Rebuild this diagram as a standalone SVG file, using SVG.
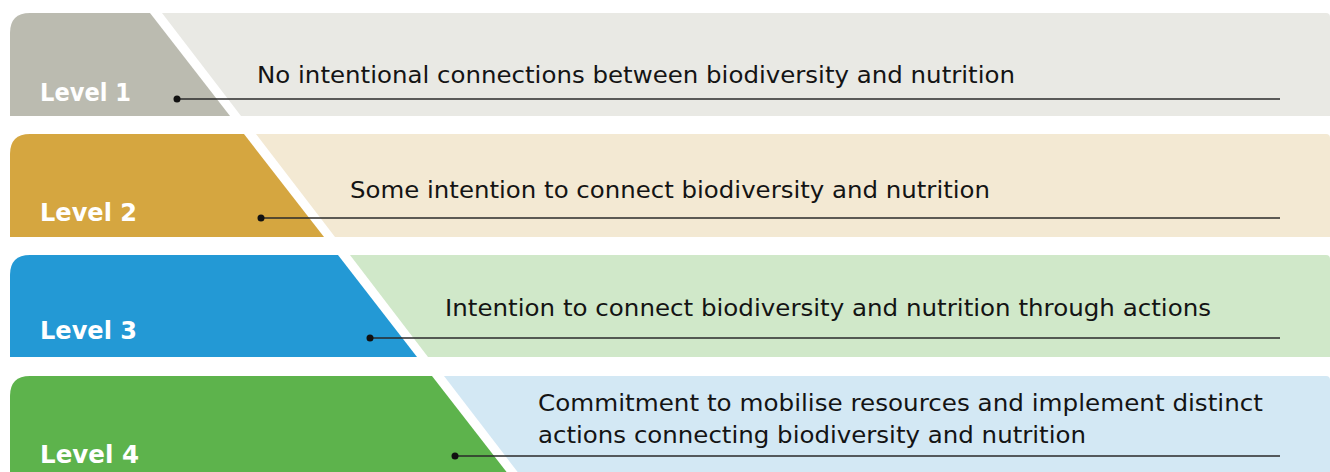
<svg xmlns="http://www.w3.org/2000/svg" width="1330" height="472" viewBox="0 0 1330 472">
  <defs>
    <style>
      .lvl { font-family: "DejaVu Sans", "Liberation Sans", sans-serif; font-weight: 700; font-size: 24.5px; fill: #ffffff; }
      .desc { font-family: "DejaVu Sans", "Liberation Sans", sans-serif; font-size: 22.5px; fill: #141414; }
      .lead { stroke: #2a2a2a; stroke-width: 1.3; fill: none; }
      .dot { fill: #111111; }
    </style>
  </defs>
  <rect width="1330" height="472" fill="#ffffff"/>

  <!-- Level 1 -->
  <g id="level1">
    <path d="M162 13 H1326 Q1330 13 1330 17 V116 H241 Z" fill="#e9e9e4"/>
    <path d="M10 116 V33 Q10 13 30 13 H150 L230 116 Z" fill="#bbbbb0"/>
    <text class="lvl" x="40" y="101" textLength="91" lengthAdjust="spacingAndGlyphs">Level 1</text>
    <text class="desc" x="257" y="83" textLength="758" lengthAdjust="spacingAndGlyphs">No intentional connections between biodiversity and nutrition</text>
  </g>

  <!-- Level 2 -->
  <g id="level2">
    <path d="M256 134 H1326 Q1330 134 1330 138 V237 H335 Z" fill="#f3e9d3"/>
    <path d="M10 237 V154 Q10 134 30 134 H244 L324 237 Z" fill="#d5a640"/>
    <text class="lvl" x="40" y="221" textLength="97" lengthAdjust="spacingAndGlyphs">Level 2</text>
    <text class="desc" x="350" y="198" textLength="640" lengthAdjust="spacingAndGlyphs">Some intention to connect biodiversity and nutrition</text>
  </g>

  <!-- Level 3 -->
  <g id="level3">
    <path d="M350 255 H1326 Q1330 255 1330 259 V357 H428 Z" fill="#d0e8c9"/>
    <path d="M10 357 V275 Q10 255 30 255 H338 L417 357 Z" fill="#2399d5"/>
    <text class="lvl" x="40" y="339" textLength="97" lengthAdjust="spacingAndGlyphs">Level 3</text>
    <text class="desc" x="445" y="316" textLength="766" lengthAdjust="spacingAndGlyphs">Intention to connect biodiversity and nutrition through actions</text>
  </g>

  <!-- Level 4 -->
  <g id="level4">
    <path d="M444 376 H1326 Q1330 376 1330 380 V479 H523 Z" fill="#d3e8f4"/>
    <path d="M10 479 V396 Q10 376 30 376 H432 L512 479 Z" fill="#5db34c"/>
    <text class="lvl" x="40" y="463" textLength="99" lengthAdjust="spacingAndGlyphs">Level 4</text>
    <text class="desc" x="538" y="411" textLength="725" lengthAdjust="spacingAndGlyphs">Commitment to mobilise resources and implement distinct</text>
    <text class="desc" x="538" y="443" textLength="548" lengthAdjust="spacingAndGlyphs">actions connecting biodiversity and nutrition</text>
  </g>

  <!-- leader lines -->
  <g id="connectors">
    <line class="lead" x1="177" y1="99" x2="1280" y2="99"/>
    <circle class="dot" cx="177" cy="99" r="3.5"/>
    <line class="lead" x1="261" y1="218" x2="1280" y2="218"/>
    <circle class="dot" cx="261" cy="218" r="3.5"/>
    <line class="lead" x1="370" y1="338" x2="1280" y2="338"/>
    <circle class="dot" cx="370" cy="338" r="3.5"/>
    <line class="lead" x1="455" y1="456" x2="1280" y2="456"/>
    <circle class="dot" cx="455" cy="456" r="3.5"/>
  </g>
</svg>
